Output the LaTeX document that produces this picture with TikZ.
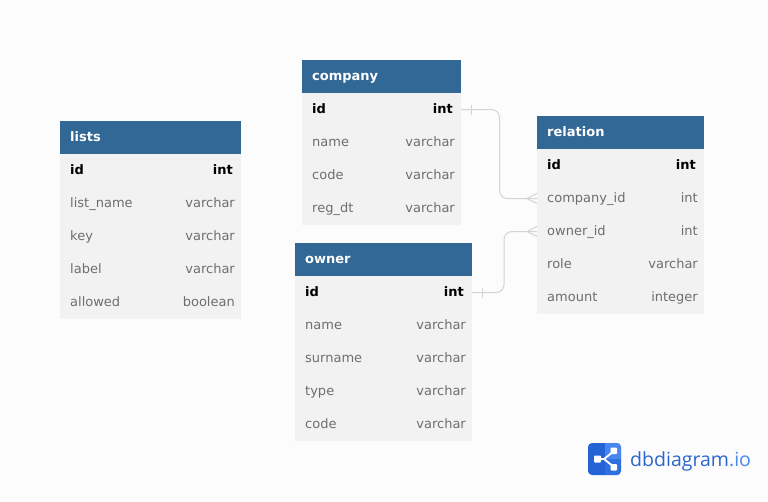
\documentclass[tikz,border=0pt]{standalone}
\usepackage{fontspec}
\setmainfont{DejaVu Sans}
\newfontfamily\logofont{Open Sans}
\definecolor{hdr}{HTML}{316896}
\definecolor{rowbg}{HTML}{F2F2F2}
\definecolor{pagebg}{HTML}{FCFCFC}
\definecolor{typegrey}{HTML}{6E6E6E}
\definecolor{linkgrey}{HTML}{D4D4D4}
\definecolor{logoA}{HTML}{2463D6}
\definecolor{logoB}{HTML}{4A86F0}
\definecolor{logoC}{HTML}{2F70E0}
\definecolor{logotxt}{HTML}{2B66CF}
\definecolor{logotxtB}{HTML}{4A88EE}
\tikzset{
  hdrbox/.style={fill=hdr,anchor=north west,minimum height=33pt,inner sep=0pt,outer sep=0pt},
  rowbox/.style={fill=rowbg,anchor=north west,minimum height=33pt,inner sep=0pt,outer sep=0pt},
  title/.style={text=white,font=\fontsize{13}{15}\selectfont\bfseries,anchor=base west,inner sep=0pt},
  colname/.style={text=typegrey,font=\fontsize{13}{15}\selectfont,anchor=base west,inner sep=0pt},
  coltype/.style={text=typegrey,font=\fontsize{13}{15}\selectfont,anchor=base east,inner sep=0pt},
  pkname/.style={text=black,font=\fontsize{13}{15}\selectfont\bfseries,anchor=base west,inner sep=0pt},
  pktype/.style={text=black,font=\fontsize{13}{15}\selectfont\bfseries,anchor=base east,inner sep=0pt},
  link/.style={draw=linkgrey,line width=1pt,rounded corners=8pt},
  crow/.style={draw=linkgrey,line width=1pt},
}
% #1 table name, #2 x, #3 y, #4 width, #5 title, #6 rows n/type
\newcommand{\dbtable}[6]{
  \node[hdrbox,minimum width=#4pt] (#1) at (#2,#3) {};
  \node[title] (#1-t) at ([xshift=10pt,yshift=-3.5pt]#1.west) {#5};
  \foreach \nm/\ty [count=\i from 0] in {#6} {
    \pgfmathsetmacro{\ry}{#3+33+33*\i}
    \node[rowbox,minimum width=#4pt] (#1-r\i) at (#2,\ry) {};
    \ifnum\i=0
      \node[pkname] (#1-n\i) at ([xshift=10pt,yshift=-4pt]#1-r\i.west) {\nm};
      \node[pktype] (#1-y\i) at ([xshift=-8pt,yshift=-4pt]#1-r\i.east) {\ty};
    \else
      \node[colname] (#1-n\i) at ([xshift=10pt,yshift=-4pt]#1-r\i.west) {\nm};
      \node[coltype] (#1-y\i) at ([xshift=-6pt,yshift=-4pt]#1-r\i.east) {\ty};
    \fi
  }
}
\begin{document}
\begin{tikzpicture}[x=1pt,y=-1pt]
\useasboundingbox (0,0) rectangle (768,501);
\fill[pagebg] (0,0) rectangle (768,501);

\dbtable{lists}{60}{121}{181}{lists}{id/int,list\_name/varchar,key/varchar,label/varchar,allowed/boolean}
\dbtable{company}{302}{60}{159}{company}{id/int,name/varchar,code/varchar,reg\_dt/varchar}
\dbtable{owner}{295}{243}{177}{owner}{id/int,name/varchar,surname/varchar,type/varchar,code/varchar}
\dbtable{relation}{537}{116}{167}{relation}{id/int,company\_id/int,owner\_id/int,role/varchar,amount/integer}

% connectors
\draw[link] (company-r0.east) -- ++(38.5,0) |- (relation-r1.west);
\draw[link] (owner-r0.east) -- ++(32,0) |- (relation-r2.west);
% one-side ticks
\draw[crow] ([xshift=10pt,yshift=-5pt]company-r0.east) -- ([xshift=10pt,yshift=5pt]company-r0.east);
\draw[crow] ([xshift=10pt,yshift=-5pt]owner-r0.east) -- ([xshift=10pt,yshift=5pt]owner-r0.east);
% many-side crow feet
\draw[crow] ([xshift=0pt,yshift=-5pt]relation-r1.west) -- ([xshift=-10pt]relation-r1.west) -- ([xshift=0pt,yshift=5pt]relation-r1.west);
\draw[crow] ([xshift=0pt,yshift=-5pt]relation-r2.west) -- ([xshift=-10pt]relation-r2.west) -- ([xshift=0pt,yshift=5pt]relation-r2.west);

% logo
\fill[logoA,rounded corners=4pt] (588,443) rectangle (621,475);
\begin{scope}
  \clip[rounded corners=4pt] (588,443) rectangle (621,475);
  \fill[logoC] (604.5,459) rectangle (621,475);
  \fill[logoB] (604.5,443) rectangle (621,459);
\end{scope}
\draw[white,line width=1.8pt] (614,451) -- (604,459) -- (596,459) (604,459) -- (614,467);
\fill[white,rounded corners=0.8pt] (594,455.5) rectangle (601,462.5);
\fill[white,rounded corners=0.8pt] (610.5,447.5) rectangle (617,454);
\fill[white,rounded corners=0.8pt] (610.5,464) rectangle (617,470.5);
\node[anchor=base west,inner sep=0pt,text=logotxt,font=\logofont\fontsize{19.5}{24}\selectfont] (logo) at (630,466.5) {dbdiagram\textcolor{logotxtB}{.io}};
\end{tikzpicture}
\end{document}
